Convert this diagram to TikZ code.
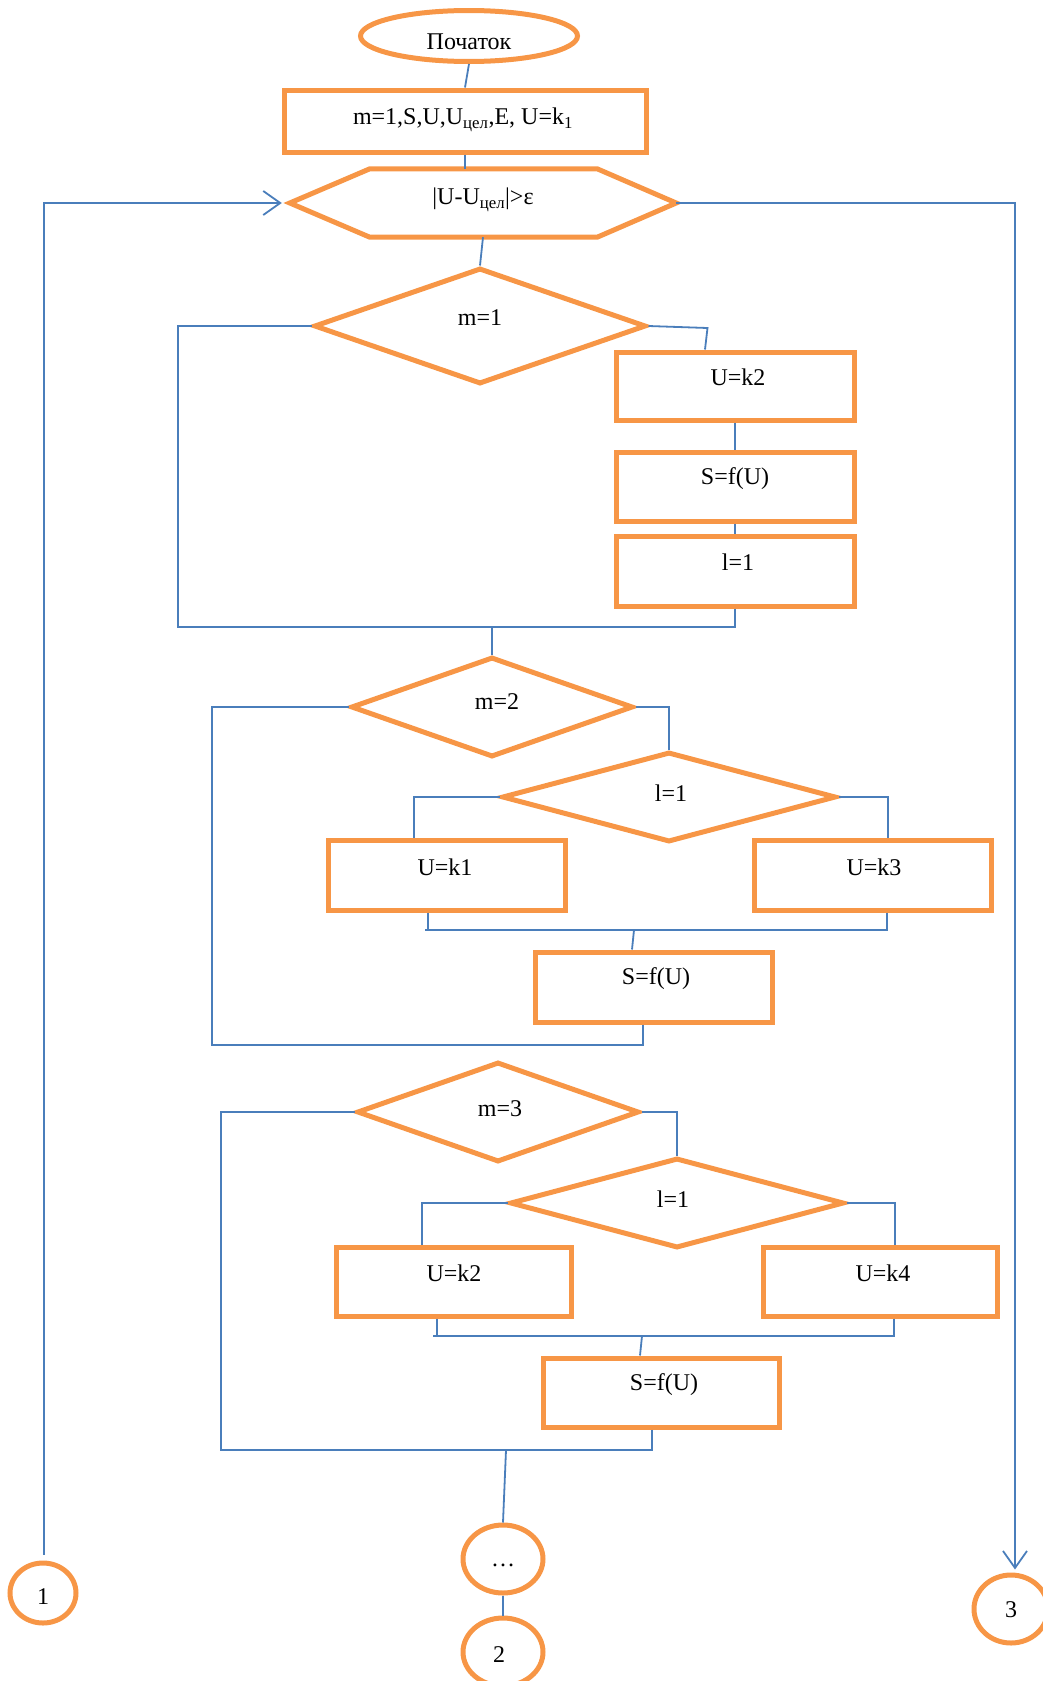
\documentclass[tikz,border=0pt]{standalone}
\usepackage{fontspec}
\setmainfont{Liberation Serif}
\usetikzlibrary{shapes.geometric,arrows.meta,calc}
\definecolor{flowor}{HTML}{F79646}
\definecolor{flowbl}{HTML}{4A7EBB}

\begin{document}
\begin{tikzpicture}[x=1pt,y=-1pt,
  every label/.style={font=\fontsize{24}{28}\selectfont, inner sep=0pt, text=black},
  outline/.style={draw=flowor, line width=5pt, inner sep=0pt},
  procbox/.style={outline, rectangle},
  decide/.style={outline, diamond},
  terminal/.style={outline, ellipse},
  wire/.style={draw=flowbl, line width=1.8pt},
  tip/.style={-{Straight Barb[length=17pt,width=24pt]}},
]
\useasboundingbox (0,0) rectangle (1042,1681);

% ---------- start and initialisation ----------
\node[terminal, minimum width=217pt, minimum height=51pt,
      label={[yshift=-6pt]center:{Початок}}] (start) at (469,36) {};
\node[procbox, minimum width=362pt, minimum height=62pt,
      label={[xshift=-2pt,yshift=1pt]center:{m=1,S,U,U\textsubscript{цел},E, U=k\textsubscript{1}}}] (init) at (465,121) {};

% loop condition (hexagon)
\node[inner sep=0pt, minimum width=386pt, minimum height=68pt,
      label={[yshift=3pt]center:{|U-U\textsubscript{цел}|>ε}}] (hex) at (483,203) {};
\draw[draw=flowor, line width=5pt, line join=miter]
  (hex.west) -- ([xshift=80pt]hex.north west) -- ([xshift=-79pt]hex.north east)
  -- (hex.east) -- ([xshift=-79pt]hex.south east) -- ([xshift=80pt]hex.south west) -- cycle;

% ---------- branch m=1 ----------
\node[decide, minimum width=332pt, minimum height=116pt,
      label={[yshift=8pt]center:{m=1}}] (m1) at (480,326) {};
\node[procbox, minimum width=238pt, minimum height=68pt,
      label={[xshift=3pt,yshift=9pt]center:{U=k2}}] (k2a) at (735,386) {};
\node[procbox, minimum width=238pt, minimum height=69pt,
      label={[yshift=8pt]center:{S=f(U)}}] (sfa) at (735,486.5) {};
\node[procbox, minimum width=238pt, minimum height=70pt,
      label={[xshift=3pt,yshift=9pt]center:{l=1}}] (l1) at (735,571) {};

% ---------- branch m=2 ----------
\node[decide, minimum width=282pt, minimum height=100pt,
      label={[xshift=5pt,yshift=5pt]center:{m=2}}] (m2) at (492,707) {};
\node[decide, minimum width=334pt, minimum height=90pt,
      label={[xshift=2pt,yshift=4pt]center:{l=1}}] (l1a) at (669,797) {};
\node[procbox, minimum width=237pt, minimum height=70pt,
      label={[xshift=-1.5pt,yshift=8pt]center:{U=k1}}] (k1) at (446.5,875) {};
\node[procbox, minimum width=237pt, minimum height=70pt,
      label={[xshift=1.5pt,yshift=8pt]center:{U=k3}}] (k3) at (872.5,875) {};
\node[procbox, minimum width=237pt, minimum height=70pt,
      label={[xshift=2.5pt,yshift=8pt]center:{S=f(U)}}] (sfb) at (653.5,987) {};

% ---------- branch m=3 ----------
\node[decide, minimum width=282pt, minimum height=100pt,
      label={[xshift=2pt,yshift=3pt]center:{m=3}}] (m3) at (498,1112) {};
\node[decide, minimum width=334pt, minimum height=90pt,
      label={[xshift=-4pt,yshift=4pt]center:{l=1}}] (l1b) at (677,1203) {};
\node[procbox, minimum width=235pt, minimum height=69pt,
      label={[xshift=0.5pt,yshift=8.5pt]center:{U=k2}}] (k2b) at (453.5,1281.5) {};
\node[procbox, minimum width=234pt, minimum height=69pt,
      label={[xshift=3pt,yshift=8.5pt]center:{U=k4}}] (k4) at (880,1281.5) {};
\node[procbox, minimum width=236pt, minimum height=69pt,
      label={[xshift=3pt,yshift=7.5pt]center:{S=f(U)}}] (sfc) at (661,1392.5) {};

% ---------- connectors (off-page) ----------
\node[terminal, minimum width=80pt, minimum height=68pt,
      label={[yshift=-6pt]center:{…}}] (dots) at (503,1559) {};
\node[terminal, minimum width=80pt, minimum height=68pt,
      label={[xshift=-4pt,yshift=-3pt]center:{2}}] (c2) at (503,1652) {};
\node[terminal, minimum width=66pt, minimum height=60pt,
      label={[yshift=-4pt]center:{1}}] (c1) at (43,1593) {};
\node[terminal, minimum width=74pt, minimum height=68pt,
      label={[yshift=-1pt]center:{3}}] (c3) at (1011,1609) {};

% junction points of the merging lines
\coordinate (j1) at (492,627);
\coordinate (ja) at (425,930);
\coordinate (jb) at (887,930);
\coordinate (jc) at (433,1336);
\coordinate (jd) at (894,1336);
\coordinate (j3) at (506,1450);

% ---------- flow lines ----------
\draw[wire] (start.south) -- (init.north);
\draw[wire] (init.south) -- (init.south |- hex.north);
\draw[wire] (hex.south) -- (m1.north);

% return to the loop test and exit from it
\draw[wire,tip] ([xshift=1pt,yshift=6pt]c1.north) |- ([xshift=-8pt]hex.west);
\draw[wire,tip] (hex.east) -| ([xshift=4pt,yshift=3pt]c3.north);

% m=1
\draw[wire] (m1.east) -- ++(59,2) -- ([xshift=-30pt]k2a.north);
\draw[wire] (k2a.south) -- (sfa.north);
\draw[wire] (sfa.south) -- (l1.north);
\draw[wire] (l1.south) |- (178,627) |- (m1.west);
\draw[wire] (j1) -- (m2.north);

% m=2
\draw[wire] (m2.east) -| (l1a.north);
\draw[wire] (l1a.west) -| ([xshift=-32.5pt]k1.north);
\draw[wire] (l1a.east) -| ([xshift=15.5pt]k3.north);
\draw[wire] ([xshift=-18.5pt]k1.south) -- ([xshift=-18.5pt]k1.south |- ja);
\draw[wire] ([xshift=14.5pt]k3.south) -- (jb) -- (ja);
\draw[wire] (634,930) -- ([xshift=-21.5pt]sfb.north);
\draw[wire] ([xshift=-10.5pt]sfb.south) |- (212,1045) |- (m2.west);

% m=3
\draw[wire] (m3.east) -| (l1b.north);
\draw[wire] (l1b.west) -| ([xshift=-31.5pt]k2b.north);
\draw[wire] (l1b.east) -| ([xshift=15pt]k4.north);
\draw[wire] ([xshift=-16.5pt]k2b.south) -- ([xshift=-16.5pt]k2b.south |- jc);
\draw[wire] ([xshift=14pt]k4.south) -- (jd) -- (jc);
\draw[wire] (642,1336) -- ([xshift=-21pt]sfc.north);
\draw[wire] ([xshift=-9pt]sfc.south) |- (221,1450) |- (m3.west);
\draw[wire] (j3) -- (dots.north);
\draw[wire] (dots.south) -- (c2.north);
\end{tikzpicture}
\end{document}
